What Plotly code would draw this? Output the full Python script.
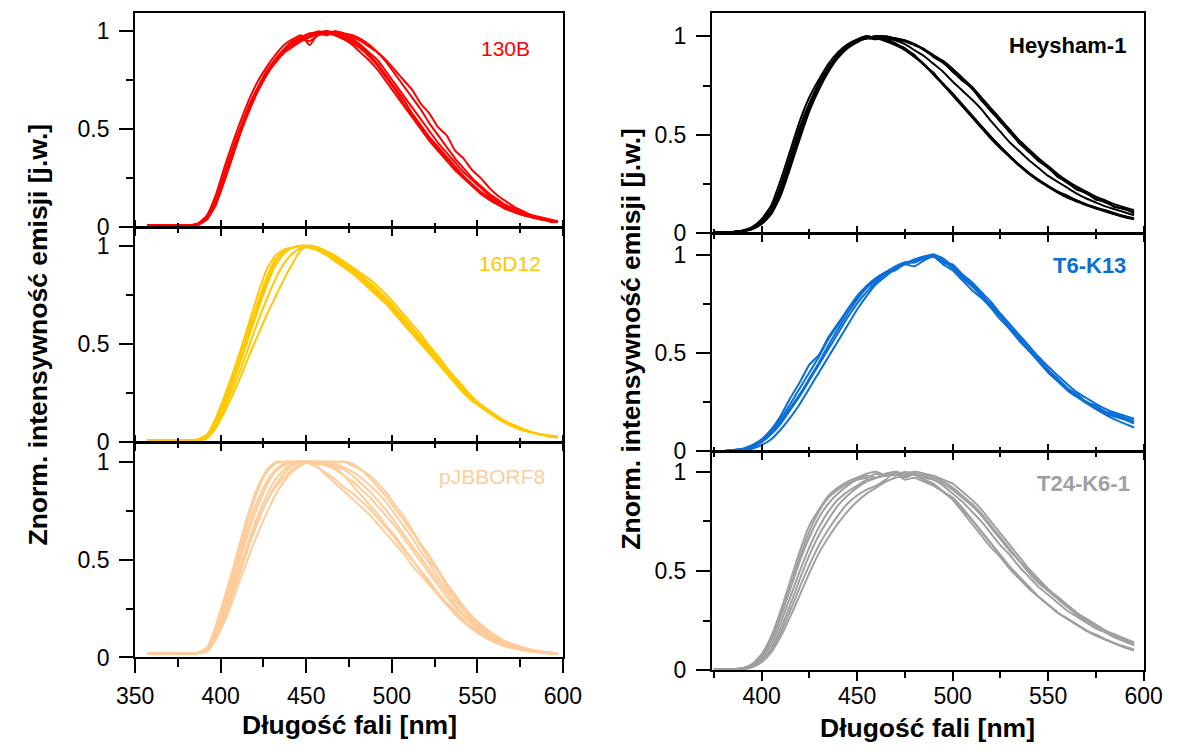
import plotly.graph_objects as go

# ---------------- data ----------------
WL_L = [357, 362, 367, 372, 377, 382, 387, 392, 397, 402, 407, 412, 417, 422, 427, 432, 437,
        442, 447, 452, 457, 462, 467, 472, 477, 482, 487, 492, 497, 502, 507, 512, 517, 522,
        527, 532, 537, 542, 547, 552, 557, 562, 567, 572, 577, 582, 587, 592, 597]
WL_R = [375, 380, 385, 390, 395, 400, 405, 410, 415, 420, 425, 430, 435, 440, 445, 450, 455,
        460, 465, 470, 475, 480, 485, 490, 495, 500, 505, 510, 515, 520, 525, 530, 535, 540,
        545, 550, 555, 560, 565, 570, 575, 580, 585, 590, 595]

S130B_1 = [.01, .01, .01, .01, .01, .01, .015, .05, .14, .27, .40, .52, .63, .72,
           .80, .86, .91, .95, .97, .99, .995, 1.0, .99, .97, .95, .92, .88, .83,
           .77, .71, .65, .58, .52, .46, .41, .36, .31, .26, .22, .18, .15, .12,
           .10, .08, .065, .05, .04, .03, .025]
S130B_2 = [.01, .01, .01, .01, .01, .01, .012, .04, .11, .23, .36, .49, .60, .70,
           .78, .84, .89, .92, .95, .97, .99, .98, 1.0, .99, .98, .96, .93, .89,
           .84, .78, .72, .66, .60, .53, .47, .41, .35, .30, .25, .21, .17, .14,
           .11, .09, .07, .055, .045, .035, .03]
S130B_3 = [.01, .01, .01, .01, .01, .01, .02, .06, .16, .30, .43, .55, .66, .75,
           .82, .88, .93, .96, .98, .93, .99, 1.0, .98, .96, .93, .89, .85, .80,
           .74, .68, .62, .56, .50, .44, .39, .34, .29, .25, .21, .17, .14, .115,
           .095, .075, .06, .05, .04, .03, .025]
S130B_4 = [.01, .01, .01, .01, .01, .01, .015, .045, .13, .25, .38, .50, .61, .70,
           .78, .85, .90, .93, .96, .95, .98, .99, 1.0, .98, .97, .95, .92, .89,
           .85, .80, .75, .70, .63, .58, .51, .47, .39, .35, .29, .25, .20, .16,
           .13, .10, .08, .06, .05, .04, .03]
S130B_5 = [.01, .01, .01, .01, .01, .01, .015, .05, .13, .26, .39, .51, .62, .71,
           .79, .85, .90, .94, .97, .98, 1.0, .99, .98, .96, .94, .91, .87, .82,
           .76, .70, .63, .57, .51, .45, .40, .35, .30, .25, .21, .17, .14, .115,
           .09, .075, .06, .05, .04, .03, .025]
S130B_6 = [.01, .01, .01, .01, .01, .01, .012, .04, .12, .24, .37, .50, .61, .71,
           .79, .85, .90, .94, .96, .97, .99, 1.0, .99, .98, .96, .93, .89, .85,
           .79, .73, .67, .61, .55, .49, .43, .38, .33, .28, .24, .20, .16, .13,
           .11, .09, .07, .055, .045, .035, .03]

S16D12_1 = [.01, .01, .01, .01, .01, .01, .012, .03, .10, .20, .31, .43, .57, .70,
            .82, .92, .97, .99, 1.0, .995, .98, .96, .93, .90, .87, .84, .80, .76,
            .72, .67, .62, .57, .52, .47, .42, .36, .31, .26, .22, .19, .155, .125,
            .10, .08, .065, .05, .04, .03, .025]
S16D12_2 = [.01, .01, .01, .01, .01, .01, .01, .02, .07, .15, .24, .34, .45, .55,
            .65, .74, .83, .91, .98, 1.0, .99, .97, .94, .91, .88, .85, .81, .77,
            .73, .68, .63, .58, .53, .48, .42, .37, .32, .27, .23, .19, .16, .13,
            .10, .085, .065, .05, .04, .03, .025]
S16D12_3 = [.01, .01, .01, .01, .01, .01, .015, .04, .12, .23, .35, .48, .62, .76,
            .88, .95, .98, .99, 1.0, .99, .975, .95, .92, .89, .86, .82, .78, .74,
            .70, .65, .60, .55, .50, .45, .40, .35, .30, .25, .21, .18, .15, .12,
            .095, .075, .06, .05, .04, .03, .025]
S16D12_4 = [.01, .01, .01, .01, .01, .01, .012, .03, .10, .19, .30, .42, .55, .68,
            .80, .90, .96, .99, 1.0, 1.0, .99, .97, .95, .92, .89, .86, .83, .79,
            .75, .70, .65, .60, .55, .49, .44, .38, .33, .28, .23, .19, .16, .13,
            .105, .085, .065, .05, .04, .035, .03]
S16D12_5 = [.01, .01, .01, .01, .01, .01, .012, .035, .11, .21, .33, .45, .59, .72,
            .84, .93, .97, .99, 1.0, .99, .98, .955, .925, .895, .865, .83, .79, .75,
            .71, .66, .61, .56, .51, .46, .41, .36, .31, .26, .22, .185, .15, .12,
            .10, .08, .06, .05, .04, .03, .025]
S16D12_6 = [.01, .01, .01, .01, .01, .01, .01, .025, .08, .17, .27, .38, .50, .62,
            .73, .83, .91, .96, .99, 1.0, .99, .97, .94, .91, .88, .85, .81, .77,
            .73, .68, .63, .58, .53, .47, .42, .36, .31, .26, .22, .18, .15, .12,
            .10, .08, .065, .05, .04, .03, .025]

SPJB_1 = [.02, .02, .02, .02, .02, .02, .025, .05, .15, .28, .42, .58, .73, .86,
          .95, .99, 1.0, 1.0, 1.0, 1.0, 1.0, .99, .97, .93, .88, .83, .78, .73,
          .67, .62, .56, .50, .44, .38, .32, .27, .22, .18, .145, .115, .09, .07,
          .055, .045, .035, .03, .025, .02, .02]
SPJB_2 = [.02, .02, .02, .02, .02, .02, .022, .04, .12, .23, .35, .48, .60, .71,
          .80, .87, .92, .96, .99, 1.0, .97, .93, .89, .85, .81, .77, .73, .68,
          .63, .58, .53, .47, .42, .37, .32, .27, .23, .19, .15, .12, .095, .075,
          .06, .05, .04, .03, .025, .02, .02]
SPJB_3 = [.02, .02, .02, .02, .02, .02, .022, .03, .10, .20, .32, .45, .58, .70,
          .80, .88, .94, .98, 1.0, 1.0, 1.0, 1.0, 1.0, 1.0, .98, .96, .93, .89,
          .84, .78, .72, .65, .58, .52, .45, .38, .32, .26, .21, .17, .135, .105,
          .08, .065, .05, .04, .03, .025, .02]
SPJB_4 = [.02, .02, .02, .02, .02, .02, .024, .04, .13, .25, .38, .52, .66, .78,
          .88, .95, .98, 1.0, 1.0, 1.0, .99, .98, .96, .93, .90, .86, .82, .77,
          .72, .67, .61, .55, .49, .43, .37, .31, .26, .21, .17, .135, .105, .08,
          .065, .05, .04, .03, .025, .02, .02]
SPJB_5 = [.02, .02, .02, .02, .02, .02, .022, .03, .09, .18, .29, .41, .53, .64,
          .74, .83, .90, .95, .98, 1.0, 1.0, 1.0, .99, .97, .95, .92, .88, .84,
          .79, .73, .67, .61, .54, .48, .41, .35, .29, .24, .19, .15, .12, .09,
          .07, .055, .045, .035, .03, .025, .02]
SPJB_6 = [.02, .02, .02, .02, .02, .02, .025, .05, .16, .30, .45, .61, .76, .88,
          .96, 1.0, 1.0, 1.0, 1.0, 1.0, 1.0, 1.0, 1.0, 1.0, .99, .96, .92, .87,
          .82, .76, .70, .64, .57, .50, .44, .37, .31, .25, .20, .16, .13, .10,
          .08, .06, .05, .04, .03, .025, .02]
SPJB_7 = [.02, .02, .02, .02, .02, .02, .022, .035, .11, .22, .34, .47, .61, .73,
          .83, .91, .96, .99, 1.0, 1.0, .99, .99, .98, .96, .93, .89, .85, .80,
          .75, .69, .63, .57, .51, .45, .39, .33, .27, .22, .18, .14, .11, .085,
          .065, .05, .04, .035, .03, .025, .02]
SPJB_8 = [.02, .02, .02, .02, .02, .02, .024, .045, .14, .27, .40, .55, .69, .81,
          .90, .96, .99, 1.0, 1.0, .99, .97, .94, .91, .87, .84, .80, .76, .71,
          .66, .61, .55, .50, .44, .39, .33, .28, .24, .19, .155, .125, .10, .08,
          .06, .05, .04, .03, .025, .02, .02]

SHEY_1 = [.005, .005, .005, .01, .025, .06, .12, .24, .39,
          .54, .66, .76, .84, .91, .95, .98, .99, 1.0,
          .98, .96, .94, .90, .86, .81, .76, .71, .655,
          .60, .545, .49, .44, .39, .345, .305, .27, .24,
          .21, .19, .165, .145, .13, .115, .10, .085, .075]
SHEY_2 = [.005, .005, .005, .008, .02, .05, .10, .21, .35,
          .50, .63, .74, .83, .90, .95, .98, 1.0, .99,
          .985, .965, .935, .905, .855, .815, .755, .705, .65,
          .595, .54, .49, .435, .39, .345, .305, .27, .235,
          .21, .185, .165, .145, .125, .11, .095, .085, .07]
SHEY_3 = [.005, .005, .005, .012, .03, .07, .14, .27, .42,
          .57, .69, .78, .86, .92, .96, .985, 1.0, .99,
          .975, .955, .93, .895, .855, .805, .755, .70, .645,
          .59, .535, .48, .43, .385, .34, .30, .265, .235,
          .205, .18, .16, .14, .125, .11, .095, .08, .07]
SHEY_4 = [.005, .005, .005, .01, .022, .055, .11, .22, .37,
          .52, .65, .75, .84, .90, .95, .98, .99, 1.0,
          .99, .98, .96, .93, .90, .86, .82, .77, .725,
          .68, .63, .57, .515, .46, .415, .37, .33, .29,
          .26, .23, .20, .175, .155, .135, .12, .105, .09]
SHEY_5 = [.005, .005, .005, .01, .025, .06, .12, .23, .38,
          .53, .65, .76, .84, .90, .95, .98, .99, 1.0,
          1.0, .99, .98, .96, .93, .90, .87, .82, .78,
          .735, .68, .62, .57, .51, .46, .41, .37, .33,
          .29, .255, .225, .20, .175, .155, .135, .12, .105]
SHEY_6 = [.005, .005, .005, .008, .018, .045, .095, .19, .33,
          .48, .62, .73, .82, .89, .94, .97, .99, .985,
          1.0, .985, .975, .955, .935, .895, .865, .825, .775,
          .74, .675, .625, .565, .515, .455, .415, .365, .335,
          .285, .26, .22, .205, .17, .16, .13, .125, .10]
SHEY_7 = [.005, .005, .005, .01, .024, .058, .115, .225, .375,
          .525, .65, .755, .835, .90, .945, .975, .99, 1.0,
          .995, .99, .975, .96, .935, .905, .875, .835, .79,
          .745, .69, .635, .58, .525, .47, .425, .38, .34,
          .30, .265, .235, .21, .185, .165, .145, .13, .115]

ST6_1 = [.0, .0, .005, .01, .02, .05, .09, .15, .22,
         .29, .37, .45, .54, .62, .70, .77, .83, .87,
         .91, .935, .955, .975, .99, 1.0, .97, .93, .89,
         .84, .79, .74, .685, .63, .57, .52, .46, .41,
         .36, .32, .28, .25, .22, .20, .18, .165, .15]
ST6_2 = [.0, .0, .006, .012, .03, .06, .11, .18, .27,
         .35, .44, .49, .58, .65, .72, .79, .84, .88,
         .91, .93, .96, .96, .985, .99, .96, .94, .88,
         .84, .80, .73, .69, .62, .58, .51, .47, .41,
         .37, .32, .29, .25, .23, .20, .19, .17, .155]
ST6_3 = [.0, .0, .003, .006, .012, .03, .06, .11, .17,
         .24, .32, .40, .48, .56, .64, .72, .79, .85,
         .89, .93, .95, .97, .98, 1.0, .98, .94, .90,
         .85, .80, .745, .69, .63, .575, .52, .465, .415,
         .365, .32, .28, .245, .215, .185, .16, .14, .12]
ST6_4 = [.0, .0, .005, .01, .025, .055, .10, .165, .24,
         .32, .40, .48, .57, .64, .72, .78, .84, .88,
         .91, .94, .96, .96, .98, .99, .96, .95, .90,
         .86, .81, .76, .70, .645, .59, .535, .48, .43,
         .385, .34, .30, .27, .24, .215, .195, .18, .165]
ST6_5 = [.0, .0, .004, .008, .018, .045, .085, .14, .21,
         .28, .36, .44, .52, .60, .68, .75, .81, .86,
         .90, .92, .95, .94, .97, .99, .95, .92, .87,
         .82, .78, .73, .67, .62, .56, .51, .455, .40,
         .355, .31, .275, .245, .215, .19, .175, .16, .14]

ST24_1 = [.005, .005, .005, .01, .03, .08, .17, .30, .45,
          .60, .73, .81, .88, .92, .95, .97, .99, 1.0,
          .98, .99, .96, .97, .95, .93, .90, .87, .82,
          .76, .70, .64, .58, .52, .47, .42, .37, .33,
          .29, .26, .23, .20, .18, .155, .135, .115, .10]
ST24_2 = [.005, .005, .005, .01, .02, .05, .11, .21, .33,
          .46, .58, .68, .76, .83, .88, .92, .95, .97,
          .98, .99, .975, .985, .96, .94, .90, .86, .80,
          .74, .68, .62, .57, .51, .46, .41, .37, .33,
          .29, .26, .23, .20, .175, .155, .135, .115, .10]
ST24_3 = [.005, .005, .005, .01, .03, .07, .15, .27, .41,
          .55, .67, .77, .84, .89, .93, .96, .97, .99,
          .98, 1.0, .99, 1.0, .99, .98, .96, .94, .90,
          .86, .81, .75, .69, .63, .57, .51, .46, .41,
          .37, .33, .29, .26, .23, .20, .18, .16, .14]
ST24_4 = [.005, .005, .005, .005, .015, .04, .09, .17, .27,
          .38, .49, .59, .67, .74, .80, .85, .89, .92,
          .95, .97, .98, 1.0, .99, .97, .95, .92, .88,
          .84, .79, .73, .67, .61, .55, .50, .45, .40,
          .36, .32, .28, .25, .22, .195, .17, .15, .13]
ST24_5 = [.005, .005, .005, .005, .02, .05, .10, .19, .30,
          .42, .53, .63, .71, .78, .84, .88, .91, .93,
          .96, 1.0, .97, .99, .96, .93, .90, .86, .81,
          .76, .70, .64, .58, .52, .47, .42, .37, .33,
          .29, .26, .23, .20, .175, .155, .135, .12, .105]
ST24_6 = [.005, .005, .005, .01, .03, .08, .16, .28, .42,
          .57, .70, .80, .87, .91, .94, .96, .98, .97,
          .99, 1.0, .98, .99, .97, .96, .94, .91, .87,
          .83, .78, .72, .66, .60, .55, .49, .44, .40,
          .36, .32, .285, .255, .225, .20, .175, .155, .135]
ST24_7 = [.005, .005, .005, .008, .022, .06, .13, .24, .37,
          .50, .62, .72, .80, .86, .90, .93, .96, .97,
          .99, .98, 1.0, .99, .98, .96, .93, .89, .85,
          .80, .75, .69, .63, .58, .52, .47, .42, .38,
          .34, .30, .27, .24, .21, .19, .165, .145, .125]

PANELS = [
    # name, color, bold, wavelength grid, series, axis index
    ("130B", "#FF0000", False, WL_L, [S130B_1, S130B_2, S130B_3, S130B_4, S130B_5, S130B_6], 1),
    ("16D12", "#FFC800", False, WL_L, [S16D12_1, S16D12_2, S16D12_3, S16D12_4, S16D12_5, S16D12_6], 2),
    ("pJBBORF8", "#FFCC99", False, WL_L, [SPJB_1, SPJB_2, SPJB_3, SPJB_4, SPJB_5, SPJB_6, SPJB_7, SPJB_8], 3),
    ("Heysham-1", "#000000", True, WL_R, [SHEY_1, SHEY_2, SHEY_3, SHEY_4, SHEY_5, SHEY_6, SHEY_7], 4),
    ("T6-K13", "#0A6ED6", True, WL_R, [ST6_1, ST6_2, ST6_3, ST6_4, ST6_5], 5),
    ("T24-K6-1", "#A0A0A0", True, WL_R, [ST24_1, ST24_2, ST24_3, ST24_4, ST24_5, ST24_6, ST24_7], 6),
]

X_TITLE = "Długość fali [nm]"
Y_TITLE = "Znorm. intensywność emisji [j.w.]"

# ---------------- layout geometry (pixels) ----------------
W, H = 1181, 755
FONT = "Liberation Sans, Arial, sans-serif"
TICK_SIZE = 23
TITLE_SIZE = 26.5

def fx(p):
    return p / W

def fy(p):
    return 1 - p / H

# (x_left, x_right, y_top, y_bottom, x_range, y_top_value, tick0, minor_tick0, bottom)
GEOM = {
    1: (120, 562, 13, 231, [350, 600], 1.095, 350, 350, False),
    2: (120, 562, 232, 450, [350, 600], 1.09, 350, 350, False),
    3: (120, 562, 451, 669, [350, 600], 1.095, 350, 350, True),
    4: (716, 1162, 13, 237, [374, 600], 1.12, 400, 375, False),
    5: (716, 1162, 238, 459, [374, 600], 1.105, 400, 375, False),
    6: (716, 1162, 460, 682, [374, 600], 1.099, 400, 375, True),
}
# label centre positions (pixels)
LABEL_POS = {1: (503, 49), 2: (507, 268), 3: (489, 485), 4: (1083, 46), 5: (1106, 270), 6: (1100, 492)}

fig = go.Figure()
layout = dict(
    width=W, height=H, margin=dict(l=0, r=0, t=0, b=0),
    paper_bgcolor="white", plot_bgcolor="white", showlegend=False,
    font=dict(family=FONT, color="black", size=20),
)

annotations = []
for name, color, bold, wl, series, k in PANELS:
    xl, xr, yt, yb, xr_, ytop, t0, mt0, bottom = GEOM[k]
    xa = "x" if k == 1 else f"x{k}"
    ya = "y" if k == 1 else f"y{k}"
    for s in series:
        fig.add_trace(go.Scatter(x=wl, y=s, mode="lines", xaxis=xa, yaxis=ya,
                                 line=dict(color=color, width=2, shape="spline", smoothing=0.5),
                                 hoverinfo="skip", showlegend=False))
    left_col = k <= 3
    if bottom:
        tl, ml = (14, 8) if left_col else (9, 6)
    else:
        tl, ml = 7, 4
    layout[f"xaxis{'' if k == 1 else k}"] = dict(
        domain=[fx(xl), fx(xr)], range=xr_, anchor=ya,
        showline=True, linecolor="black", linewidth=2, mirror=True,
        ticks="outside", ticklen=tl, tickwidth=2, tickcolor="black",
        tick0=t0, dtick=50,
        minor=dict(ticks="outside", ticklen=ml, tickwidth=2, tickcolor="black", tick0=mt0, dtick=25),
        showticklabels=bottom, showgrid=False, zeroline=False,
        tickfont=dict(family=FONT, size=TICK_SIZE, color="black"),
        ticklabelstandoff=(3 if left_col else -5),
    )
    layout[f"yaxis{'' if k == 1 else k}"] = dict(
        domain=[fy(yb), fy(yt)], range=[0, ytop], anchor=xa,
        showline=True, linecolor="black", linewidth=2, mirror=True,
        ticks="outside", ticklen=14, tickwidth=2, tickcolor="black",
        tick0=0, dtick=0.5,
        minor=dict(ticks="outside", ticklen=7, tickwidth=2, tickcolor="black", tick0=0, dtick=0.25),
        showgrid=False, zeroline=False,
        tickfont=dict(family=FONT, size=TICK_SIZE, color="black"),
        ticklabelstandoff=5,
    )
    lx, ly = LABEL_POS[k]
    annotations.append(dict(
        x=fx(lx), y=fy(ly), xref="paper", yref="paper",
        text=name, showarrow=False, xanchor="center", yanchor="middle",
        font=dict(family=FONT, size=22 if bold else 21, color=color,
                  weight="bold" if bold else "normal"),
    ))

# overlay axes giving the crossing ticks on shared borders
overlay_id = 7
for k in (2, 3, 5, 6):
    xl, xr, yt, yb, xr_, ytop, t0, mt0, bottom = GEOM[k]
    xa = f"x{k}"
    ya = f"y{k}"
    layout[f"xaxis{overlay_id}"] = dict(
        overlaying=xa, side="top", anchor=ya, range=xr_,
        showline=False, ticks="outside", ticklen=7, tickwidth=2, tickcolor="black",
        tick0=t0, dtick=50,
        minor=dict(ticks="outside", ticklen=4, tickwidth=2, tickcolor="black", tick0=mt0, dtick=25),
        showticklabels=False, showgrid=False, zeroline=False,
    )
    fig.add_trace(go.Scatter(x=[None], y=[None], xaxis=f"x{overlay_id}", yaxis=ya,
                             mode="lines", showlegend=False, hoverinfo="skip"))
    overlay_id += 1

# axis titles
annotations += [
    dict(x=fx(20), y=fy(340), text=Y_TITLE, textangle=-90, showarrow=False,
         xref="paper", yref="paper", xanchor="center", yanchor="middle",
         font=dict(family=FONT, size=TITLE_SIZE, color="black", weight="bold")),
    dict(x=fx(632), y=fy(345), text=Y_TITLE, textangle=-90, showarrow=False,
         xref="paper", yref="paper", xanchor="center", yanchor="middle",
         font=dict(family=FONT, size=TITLE_SIZE, color="black", weight="bold")),
    dict(x=fx(341), y=fy(738), text=X_TITLE, showarrow=False,
         xref="paper", yref="paper", xanchor="center", yanchor="middle",
         font=dict(family=FONT, size=TITLE_SIZE, color="black", weight="bold")),
    dict(x=fx(939), y=fy(741), text=X_TITLE, showarrow=False,
         xref="paper", yref="paper", xanchor="center", yanchor="middle",
         font=dict(family=FONT, size=TITLE_SIZE, color="black", weight="bold")),
]
layout["annotations"] = annotations

fig.update_layout(**layout)
fig.write_html("out.html")
